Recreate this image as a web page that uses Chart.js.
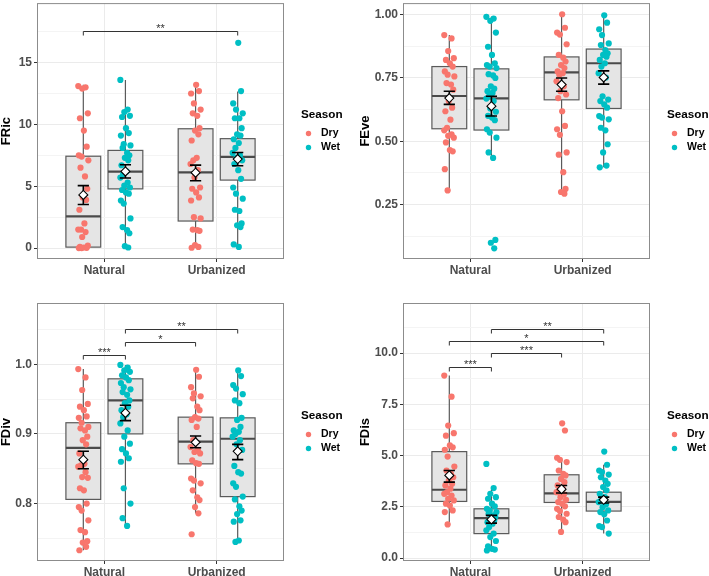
<!DOCTYPE html>
<html>
<head>
<meta charset="utf-8">
<script src="https://cdn.jsdelivr.net/npm/chart.js@4.4.1/dist/chart.umd.min.js"></script>
<style>
  html, body { margin: 0; padding: 0; background: #fff; }
  #wrap { position: relative; width: 709px; height: 576px; overflow: hidden; }
  canvas { position: absolute; }
</style>
</head>
<body>
<div id="wrap">
  <canvas id="c-fric" width="354" height="288" style="left:0;top:0"></canvas>
  <canvas id="c-feve" width="355" height="288" style="left:354px;top:0"></canvas>
  <canvas id="c-fdiv" width="354" height="288" style="left:0;top:288px"></canvas>
  <canvas id="c-fdis" width="355" height="288" style="left:354px;top:288px"></canvas>
</div>
<script>
const GROUPS = ['Natural', 'Urbanized'];
const SEASONS = ['Dry', 'Wet'];
const COLORS = ['#F8766D', '#00BFC4'];

// ---- FRic ----
const fricDry = [
  [13.1, 13.0, 12.9, 10.9, 10.5, 9.5, 8.2, 7.5, 7.4, 7.1, 6.5, 5.8, 4.8, 4.1, 3.9, 3.1, 2.0, 1.5, 1.5, 1.3, 0.9, 0.2, 0.1, 0.05, 0.02, 0.0, 0.0],
  [13.2, 12.7, 12.5, 11.7, 11.2, 10.9, 10.7, 9.7, 9.5, 9.2, 8.7, 7.3, 7.1, 6.8, 6.3, 5.7, 4.9, 4.8, 4.5, 4.1, 3.85, 2.5, 2.4, 1.5, 1.45, 1.4, 0.25, 0.1, 0.03]
];
const fricWet = [
  [13.6, 11.2, 11.0, 10.7, 10.6, 9.7, 9.3, 9.1, 8.4, 8.3, 8.1, 7.7, 7.5, 7.3, 7.1, 6.7, 6.2, 6.0, 5.7, 5.3, 5.05, 4.9, 4.7, 4.5, 4.4, 3.85, 3.6, 2.4, 1.7, 1.45, 1.2, 0.16, 0.05],
  [16.6, 12.7, 11.7, 11.2, 10.9, 10.5, 10.5, 9.7, 9.2, 9.1, 8.8, 8.5, 8.1, 7.7, 7.5, 7.3, 7.1, 6.8, 6.3, 5.6, 4.9, 4.4, 4.0, 3.1, 3.0, 2.0, 1.85, 1.7, 0.3, 0.1]
];
// [whisker low, Q1, median, Q3, whisker high]
const fricDryBox = [[0, 0.08, 2.57, 7.43, 13.2], [0, 2.19, 6.12, 9.65, 13.26]];
const fricWetBox = [[0.05, 4.79, 6.18, 7.9, 13.6], [0.1, 5.5, 7.38, 8.85, 12.67]];
// [mean, mean - se, mean + se]
const fricDryMean = [[4.3, 3.53, 5.05], [6.1, 5.45, 6.71]];
const fricWetMean = [[6.2, 5.67, 6.74], [7.2, 6.66, 7.73]];
const fricSig = [['Natural', 'Dry', 'Urbanized', 'Wet', 17.54, '**']];
const fricTicks = [0, 5, 10, 15];
const fricTickLabels = ['0', '5', '10', '15'];
const fricMinor = [2.5, 7.5, 12.5, 17.5];

// ---- FEve ----
const feveDry = [
  [0.918, 0.905, 0.855, 0.827, 0.82, 0.807, 0.794, 0.775, 0.762, 0.755, 0.729, 0.723, 0.703, 0.658, 0.632, 0.618, 0.585, 0.553, 0.543, 0.527, 0.521, 0.514, 0.495, 0.465, 0.46, 0.39, 0.306],
  [1.0, 0.947, 0.928, 0.92, 0.882, 0.84, 0.829, 0.814, 0.8, 0.788, 0.775, 0.768, 0.762, 0.736, 0.716, 0.697, 0.684, 0.67, 0.618, 0.56, 0.547, 0.525, 0.456, 0.447, 0.378, 0.312, 0.3, 0.293]
];
const feveWet = [
  [0.99, 0.983, 0.974, 0.928, 0.872, 0.84, 0.807, 0.8, 0.794, 0.788, 0.764, 0.759, 0.749, 0.716, 0.707, 0.697, 0.69, 0.677, 0.668, 0.658, 0.629, 0.616, 0.6, 0.593, 0.583, 0.547, 0.534, 0.514, 0.456, 0.434, 0.111, 0.1, 0.078],
  [0.996, 0.967, 0.941, 0.918, 0.885, 0.879, 0.859, 0.846, 0.84, 0.833, 0.82, 0.807, 0.794, 0.768, 0.751, 0.677, 0.664, 0.658, 0.645, 0.632, 0.599, 0.593, 0.586, 0.553, 0.543, 0.488, 0.456, 0.404, 0.397]
];
const feveDryBox = [[0.306, 0.549, 0.678, 0.794, 0.918], [0.293, 0.663, 0.771, 0.832, 1.0]];
const feveWetBox = [[0.434, 0.544, 0.669, 0.785, 0.99], [0.397, 0.629, 0.807, 0.863, 0.996]];
const feveDryMean = [[0.67, 0.645, 0.697], [0.723, 0.697, 0.749]];
const feveWetMean = [[0.638, 0.599, 0.677], [0.751, 0.725, 0.777]];
const feveSig = [];
const feveTicks = [0.25, 0.5, 0.75, 1.0];
const feveTickLabels = ['0.25', '0.50', '0.75', '1.00'];
const feveMinor = [0.125, 0.375, 0.625, 0.875];

// ---- FDiv ----
const fdivDry = [
  [0.993, 0.981, 0.963, 0.943, 0.939, 0.934, 0.925, 0.923, 0.916, 0.91, 0.908, 0.905, 0.896, 0.891, 0.885, 0.872, 0.857, 0.855, 0.853, 0.845, 0.838, 0.837, 0.822, 0.819, 0.8, 0.795, 0.79, 0.776, 0.762, 0.759, 0.746, 0.744, 0.738, 0.733],
  [0.992, 0.982, 0.967, 0.958, 0.954, 0.951, 0.939, 0.934, 0.924, 0.922, 0.92, 0.91, 0.891, 0.881, 0.877, 0.874, 0.872, 0.862, 0.858, 0.857, 0.836, 0.833, 0.829, 0.819, 0.809, 0.805, 0.795, 0.786, 0.756]
];
const fdivWet = [
  [0.999, 0.995, 0.991, 0.989, 0.984, 0.981, 0.977, 0.973, 0.967, 0.964, 0.96, 0.956, 0.948, 0.944, 0.939, 0.934, 0.928, 0.924, 0.915, 0.905, 0.896, 0.886, 0.878, 0.872, 0.865, 0.86, 0.822, 0.8, 0.779, 0.768],
  [0.991, 0.983, 0.97, 0.965, 0.957, 0.948, 0.944, 0.923, 0.92, 0.91, 0.905, 0.903, 0.9, 0.896, 0.891, 0.885, 0.877, 0.854, 0.845, 0.843, 0.829, 0.824, 0.81, 0.806, 0.796, 0.79, 0.785, 0.776, 0.774, 0.747, 0.745]
];
const fdivDryBox = [[0.733, 0.806, 0.88, 0.916, 0.993], [0.786, 0.857, 0.889, 0.924, 0.992]];
const fdivWetBox = [[0.768, 0.9, 0.948, 0.979, 0.999], [0.745, 0.81, 0.893, 0.923, 0.991]];
const fdivDryMean = [[0.863, 0.85, 0.875], [0.888, 0.88, 0.897]];
const fdivWetMean = [[0.93, 0.919, 0.941], [0.875, 0.863, 0.885]];
const fdivSig = [
  ['Natural', 'Dry', 'Natural', 'Wet', 1.0139, '***'],
  ['Natural', 'Wet', 'Urbanized', 'Dry', 1.0325, '*'],
  ['Natural', 'Wet', 'Urbanized', 'Wet', 1.051, '**']
];
const fdivTicks = [0.8, 0.9, 1.0];
const fdivTickLabels = ['0.8', '0.9', '1.0'];
const fdivMinor = [0.75, 0.85, 0.95, 1.05];

// ---- FDis ----
const fdisDry = [
  [8.9, 7.87, 6.46, 6.09, 5.97, 5.49, 5.4, 5.28, 4.95, 4.46, 4.27, 4.1, 3.94, 3.78, 3.62, 3.54, 3.38, 3.21, 3.13, 3.05, 2.89, 2.81, 2.65, 2.56, 2.32, 2.24, 1.64],
  [6.57, 6.22, 4.89, 4.79, 4.68, 4.27, 4.1, 4.03, 3.86, 3.7, 3.54, 3.38, 3.3, 3.21, 3.1, 2.97, 2.84, 2.73, 2.65, 2.52, 2.4, 2.29, 2.16, 2.0, 1.87, 1.75, 1.27]
];
const fdisWet = [
  [4.59, 3.41, 3.13, 2.97, 2.89, 2.65, 2.52, 2.4, 2.32, 2.24, 2.16, 2.08, 2.0, 1.92, 1.83, 1.75, 1.67, 1.51, 1.35, 1.19, 1.02, 0.83, 0.57, 0.45, 0.41, 0.37],
  [5.19, 4.55, 4.27, 4.19, 4.07, 3.94, 3.78, 3.62, 3.46, 3.3, 3.13, 2.97, 2.84, 2.73, 2.61, 2.48, 2.32, 2.24, 2.13, 1.83, 1.56, 1.51, 1.19]
];
const fdisDryBox = [[1.64, 2.76, 3.33, 5.19, 8.9], [1.27, 2.71, 3.15, 4.06, 4.79]];
const fdisWetBox = [[0.37, 1.19, 1.95, 2.4, 3.33], [1.19, 2.29, 2.74, 3.21, 4.55]];
const fdisDryMean = [[4.03, 3.7, 4.27], [3.36, 3.17, 3.54]];
const fdisWetMean = [[1.88, 1.7, 2.08], [2.84, 2.68, 2.97]];
const fdisSig = [
  ['Natural', 'Dry', 'Natural', 'Wet', 9.33, '***'],
  ['Natural', 'Wet', 'Urbanized', 'Dry', 10.0, '***'],
  ['Natural', 'Dry', 'Urbanized', 'Wet', 10.57, '*'],
  ['Natural', 'Wet', 'Urbanized', 'Wet', 11.15, '**']
];
const fdisTicks = [0, 2.5, 5, 7.5, 10];
const fdisTickLabels = ['0.0', '2.5', '5.0', '7.5', '10.0'];
const fdisMinor = [1.25, 3.75, 6.25, 8.75, 11.25];

// layout constants
const DODGE = 0.1875, BOX_W = 0.31, CAP_W = 0.1;
const JITTER = [-0.045, 0.02, -0.01, 0.04, -0.03, 0.005, 0.03, -0.04, -0.015, 0.045, -0.025, 0.015, 0.035, -0.005, 0.025, -0.035, 0.01, -0.02];
const FONT = '"Liberation Sans", Arial, sans-serif';

Chart.defaults.font.family = FONT;

function xPos(x, group, season) {
  return x.getPixelForValue(GROUPS.indexOf(group) + 1 + (season === 'Dry' ? -DODGE : DODGE));
}

function makeLayer(p) {
  return {
    id: 'boxLayer',
    beforeDatasetsDraw(chart) {
      const { ctx, scales: { x, y } } = chart;
      const half = Math.abs(x.getPixelForValue(BOX_W) - x.getPixelForValue(0)) / 2;
      ctx.save();
      SEASONS.forEach((s, si) => p.boxes[si].forEach((b, gi) => {
        const cx = xPos(x, GROUPS[gi], s);
        const [lo, q1, md, q3, hi] = b.map(v => y.getPixelForValue(v));
        ctx.strokeStyle = '#5a5a5a';
        ctx.lineWidth = 1.2;
        ctx.beginPath();
        ctx.moveTo(cx, hi); ctx.lineTo(cx, q3);
        ctx.moveTo(cx, q1); ctx.lineTo(cx, lo);
        ctx.stroke();
        ctx.fillStyle = '#E5E5E5';
        ctx.fillRect(cx - half, q3, 2 * half, q1 - q3);
        ctx.strokeRect(cx - half, q3, 2 * half, q1 - q3);
        ctx.lineWidth = 2.2;
        ctx.strokeStyle = '#4a4a4a';
        ctx.beginPath();
        ctx.moveTo(cx - half, md); ctx.lineTo(cx + half, md);
        ctx.stroke();
      }));
      ctx.restore();
    },
    afterDatasetsDraw(chart) {
      const { ctx, scales: { x, y } } = chart;
      const cap = Math.abs(x.getPixelForValue(CAP_W) - x.getPixelForValue(0)) / 2;
      ctx.save();
      SEASONS.forEach((s, si) => p.means[si].forEach((m, gi) => {
        const cx = xPos(x, GROUPS[gi], s);
        const [mu, lo, hi] = m.map(v => y.getPixelForValue(v));
        ctx.strokeStyle = '#000';
        ctx.lineWidth = 1.6;
        ctx.beginPath();
        ctx.moveTo(cx, lo); ctx.lineTo(cx, hi);
        ctx.moveTo(cx - cap, lo); ctx.lineTo(cx + cap, lo);
        ctx.moveTo(cx - cap, hi); ctx.lineTo(cx + cap, hi);
        ctx.stroke();
        ctx.fillStyle = '#fff';
        ctx.lineWidth = 1.1;
        ctx.beginPath();
        ctx.moveTo(cx, mu - 4.5); ctx.lineTo(cx + 4.5, mu);
        ctx.lineTo(cx, mu + 4.5); ctx.lineTo(cx - 4.5, mu);
        ctx.closePath();
        ctx.fill(); ctx.stroke();
      }));
      // significance brackets
      ctx.strokeStyle = '#333';
      ctx.fillStyle = '#333';
      ctx.lineWidth = 1;
      ctx.font = '11px ' + FONT;
      ctx.textAlign = 'center';
      ctx.textBaseline = 'alphabetic';
      p.sig.forEach(([g1, s1, g2, s2, v, label]) => {
        const x1 = xPos(x, g1, s1), x2 = xPos(x, g2, s2);
        const yy = Math.round(y.getPixelForValue(v)) + 0.5;
        ctx.beginPath();
        ctx.moveTo(x1, yy + 4); ctx.lineTo(x1, yy); ctx.lineTo(x2, yy); ctx.lineTo(x2, yy + 4);
        ctx.stroke();
        ctx.fillText(label, (x1 + x2) / 2, yy);
      });
      ctx.restore();
    },
    afterDraw(chart) {
      const { ctx, chartArea: a } = chart;
      ctx.save();
      ctx.strokeStyle = '#8C8C8C';
      ctx.lineWidth = 1;
      ctx.strokeRect(a.left + 0.5, a.top + 0.5, a.width - 1, a.height - 1);
      // legend
      const mid = (a.top + a.bottom) / 2;
      ctx.textAlign = 'left';
      ctx.textBaseline = 'middle';
      ctx.fillStyle = '#000';
      ctx.font = 'bold 11.7px ' + FONT;
      ctx.fillText('Season', a.right + 17, mid - 16);
      SEASONS.forEach((s, si) => {
        const yy = mid + 2.5 + si * 14;
        ctx.fillStyle = COLORS[si];
        ctx.beginPath();
        ctx.arc(a.right + 24.5, yy, 2.7, 0, Math.PI * 2);
        ctx.fill();
        ctx.fillStyle = '#000';
        ctx.font = 'bold 10.5px ' + FONT;
        ctx.fillText(s, a.right + 37, yy);
      });
      ctx.restore();
    }
  };
}

function makePanel(id, p) {
  const isMajor = v => p.ticks.some(t => Math.abs(t - v) < 1e-9);
  const gridVals = [...p.ticks, ...p.minor].sort((a, b) => a - b);
  return new Chart(document.getElementById(id), {
    type: 'scatter',
    data: {
      datasets: SEASONS.map((s, si) => ({
        label: s,
        data: p.points[si].flatMap((vals, gi) =>
          vals.map((v, k) => ({ x: gi + 1 + (si === 0 ? -DODGE : DODGE) + JITTER[(k + gi * 5) % JITTER.length], y: v }))),
        backgroundColor: COLORS[si],
        borderWidth: 0,
        pointRadius: 3.1,
        pointHoverRadius: 3.1
      }))
    },
    plugins: [makeLayer(p)],
    options: {
      responsive: false,
      animation: false,
      events: [],
      layout: { padding: p.pad },
      plugins: { legend: { display: false }, tooltip: { enabled: false } },
      scales: {
        x: {
          type: 'linear', min: 0.4, max: 2.6,
          afterBuildTicks: s => { s.ticks = [{ value: 1 }, { value: 2 }]; },
          afterFit: s => { s.height = p.xH; s.paddingLeft = 0; s.paddingRight = 0; },
          ticks: {
            callback: v => GROUPS[Math.round(v) - 1],
            color: '#4D4D4D', font: { size: 12, weight: 'bold' },
            padding: 1, maxRotation: 0, autoSkip: false
          },
          grid: { color: '#EBEBEB', lineWidth: 1, tickLength: 3, tickColor: '#333' },
          border: { display: false }
        },
        y: {
          min: p.min, max: p.max,
          afterBuildTicks: s => { s.ticks = gridVals.map(v => ({ value: v })); },
          afterFit: s => { s.width = p.yW; s.paddingTop = 0; s.paddingBottom = 0; },
          ticks: {
            callback: v => { const i = p.ticks.findIndex(t => Math.abs(t - v) < 1e-9); return i >= 0 ? p.tickLabels[i] : ''; },
            color: '#4D4D4D', font: { size: 12, weight: 'bold' }, padding: 2, autoSkip: false
          },
          grid: {
            color: c => isMajor(c.tick.value) ? '#EBEBEB' : '#F4F4F4',
            lineWidth: 1,
            tickLength: 3,
            tickColor: c => isMajor(c.tick.value) ? '#333' : 'rgba(0,0,0,0)'
          },
          title: {
            display: true, text: p.title, color: '#000',
            font: { size: 13, weight: 'bold', lineHeight: 1 },
            padding: { top: p.titlePad, bottom: 0 }
          },
          border: { display: false }
        }
      }
    }
  });
}

makePanel('c-fric', {
  title: 'FRic', points: [fricDry, fricWet], boxes: [fricDryBox, fricWetBox], means: [fricDryMean, fricWetMean],
  sig: fricSig, ticks: fricTicks, tickLabels: fricTickLabels, minor: fricMinor,
  min: -0.88, max: 19.81, pad: { left: 0, top: 1, right: 70, bottom: 0 }, yW: 37, xH: 29, titlePad: 0
});
makePanel('c-feve', {
  title: 'FEve', points: [feveDry, feveWet], boxes: [feveDryBox, feveWetBox], means: [feveDryMean, feveWetMean],
  sig: feveSig, ticks: feveTicks, tickLabels: feveTickLabels, minor: feveMinor,
  min: 0.036, max: 1.044, pad: { left: 0, top: 1, right: 59, bottom: 0 }, yW: 49, xH: 29, titlePad: 4.5
});
makePanel('c-fdiv', {
  title: 'FDiv', points: [fdivDry, fdivWet], boxes: [fdivDryBox, fdivWetBox], means: [fdivDryMean, fdivWetMean],
  sig: fdivSig, ticks: fdivTicks, tickLabels: fdivTickLabels, minor: fdivMinor,
  min: 0.7176, max: 1.0878, pad: { left: 0, top: 15, right: 70, bottom: 0 }, yW: 37, xH: 15, titlePad: 0
});
makePanel('c-fdis', {
  title: 'FDis', points: [fdisDry, fdisWet], boxes: [fdisDryBox, fdisWetBox], means: [fdisDryMean, fdisWetMean],
  sig: fdisSig, ticks: fdisTicks, tickLabels: fdisTickLabels, minor: fdisMinor,
  min: -0.146, max: 12.44, pad: { left: 0, top: 15, right: 59, bottom: 0 }, yW: 49, xH: 15, titlePad: 4.5
});
</script>
</body>
</html>
